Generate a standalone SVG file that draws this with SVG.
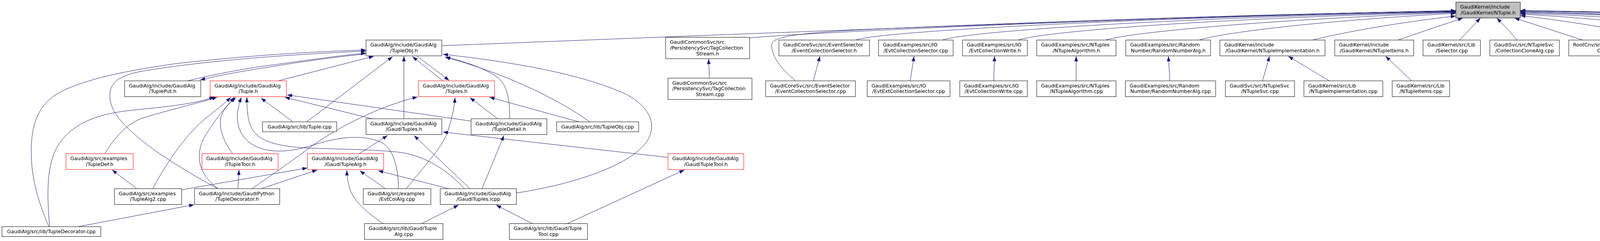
<svg xmlns="http://www.w3.org/2000/svg" width="5953" height="617" viewBox="0 0 5953 617">
<style>
.n rect{fill:#fff;stroke:#000;stroke-width:1}
.r rect{stroke:#ff0000}
.top rect{fill:#bfbfbf}
text{font-family:"DejaVu Sans","Liberation Sans",sans-serif;font-size:12.7px;fill:#000}
.s{text-anchor:start}.m{text-anchor:middle}
#edges path{fill:none;stroke:#191970;stroke-width:1;marker-end:url(#a)}
</style>
<defs>
<marker id="a" markerUnits="userSpaceOnUse" markerWidth="14" markerHeight="10" refX="13" refY="4.65" orient="auto" viewBox="0 0 14 10"><path d="M0,0 L13,4.65 L0,9.3 z" fill="#191970"/></marker>
</defs>
<rect width="5953" height="617" fill="#fff"/>
<g id="edges">
<path d="M125,580 C95,510 80,450 80,390 C80,320 95,260 170,228 C240,198 330,180 450,163 C650,140 830,131 937,128"/>
<path d="M127,580 C120,500 118,420 150,370 C190,310 260,290 340,282 C430,273 500,266 549,248"/>
<path d="M201,580 L497,524"/>
<path d="M350,483 L287,435"/>
<path d="M391,483 C430,410 480,340 530,300 C555,280 575,265 591,249"/>
<path d="M465,486 L787,430"/>
<path d="M558,483 C440,420 300,330 284,265 C272,215 300,195 360,183 C520,155 760,138 937,131"/>
<path d="M558,483 C500,440 500,385 530,340 C555,300 580,272 600,249"/>
<path d="M609,483 L612,435"/>
<path d="M645,483 C700,445 750,410 790,380 C850,335 960,275 1069,248"/>
<path d="M669,483 L812,435"/>
<path d="M268,394 C300,340 335,312 366,302 C430,282 500,266 556,249"/>
<path d="M596,394 C570,360 558,322 567,295 C575,275 590,262 604,249"/>
<path d="M1020,483 C1020,425 1005,378 975,364 C925,342 860,352 800,372 C730,394 670,392 635,362 C605,335 600,295 618,249"/>
<path d="M1189,483 C1140,430 1080,395 1015,389 C940,382 860,382 790,379 C730,376 680,368 655,343 C635,322 632,290 632,249"/>
<path d="M750,312 L668,251"/>
<path d="M785,312 L1005,145"/>
<path d="M953,304 L729,249"/>
<path d="M1206,310 L735,243"/>
<path d="M1034,304 L1034,144"/>
<path d="M1134,207 L1056,145"/>
<path d="M1067,143 L1150,206"/>
<path d="M712,207 L957,144"/>
<path d="M480,207 C560,188 640,173 700,166 C800,152 880,141 937,136"/>
<path d="M937,138 C870,145 790,155 700,170 C620,182 560,193 512,205"/>
<path d="M1305,304 C1305,260 1300,215 1270,195 C1230,170 1180,155 1140,146"/>
<path d="M1510,312 C1430,255 1300,190 1139,146"/>
<path d="M1482,312 L1253,249"/>
<path d="M1322,494 C1450,475 1600,430 1650,370 C1690,320 1660,270 1600,240 C1500,195 1350,163 1134,139"/>
<path d="M1274,304 L1203,250"/>
<path d="M1040,483 C1090,420 1130,380 1145,340 C1158,300 1163,275 1165,250"/>
<path d="M986,483 L921,437"/>
<path d="M919,394 L992,347"/>
<path d="M1203,483 L1060,347"/>
<path d="M1710,403 L1134,338"/>
<path d="M1234,483 L1290,347"/>
<path d="M1149,483 L968,437"/>
<path d="M982,573 C940,545 905,515 895,482 C890,462 888,452 888,436"/>
<path d="M1078,573 L1174,525"/>
<path d="M1364,573 L1270,525"/>
<path d="M1451,573 L1752,435"/>
<path d="M1816,200 L1814,151"/>
<path d="M2082,207 L2099,144"/>
<path d="M2330,207 L2340,144"/>
<path d="M2544,207 L2546,144"/>
<path d="M2755,207 L2755,144"/>
<path d="M2995,207 L2991,144"/>
<path d="M3232,207 L3250,144"/>
<path d="M3403,207 L3298,144"/>
<path d="M3614,207 L3547,144"/>
<path d="M5213,207 L5285,144"/>
<path d="M5419,214.5 L5340,144"/>
<path d="M5435,312 L5435,240.5"/>
<path d="M1131,117 C1700,95 3000,42 3727,27"/>
<path d="M1919,97 C2100,80 3100,38 3727,28"/>
<path d="M2192,102 C2260,80 2900,45 3727,29"/>
<path d="M2037,207 C2000,178 1972,140 1976,112 C1980,90 2080,82 2250,74 C2800,50 3300,35 3727,28"/>
<path d="M2414,102 C2480,80 3000,45 3727,30"/>
<path d="M2608,102 C2680,80 3100,47 3727,31"/>
<path d="M2832,102 C2900,82 3250,50 3727,32"/>
<path d="M3071,102 C3150,80 3400,52 3727,34"/>
<path d="M3362,102 C3450,80 3600,55 3727,41"/>
<path d="M3580,102 L3745,46"/>
<path d="M3737,102 L3790,46"/>
<path d="M3884,102 L3832,46"/>
<path d="M4050,102 L3877,46"/>
<path d="M4257,102 C4150,75 4000,52 3892,40"/>
<path d="M4513,110 C4420,85 4150,50 3892,36"/>
<path d="M4761,110 C4680,85 4300,48 3892,34"/>
<path d="M4965,102 C4880,80 4400,45 3892,32"/>
<path d="M5189,207 C5189,160 5175,110 5140,95 C4900,70 4350,42 3892,30"/>
<path d="M5237,102 C5150,80 4500,44 3892,30"/>
<path d="M5440,214 C5448,160 5440,105 5400,90 C5100,62 4450,38 3892,28"/>
<path d="M5549,110 C5460,85 4600,40 3892,27"/>
<path d="M5772,102 C5680,80 4700,38 3892,27"/>
</g>
<g id="NTuple_h" class="n top"><rect x="3727" y="5.5" width="165" height="40.5"/><text class="s" x="3738" y="22">GaudiKernel/include</text><text class="m" x="3809.5" y="36.5">/GaudiKernel/NTuple.h</text></g>
<g id="TupleObj_h" class="n"><rect x="937" y="102.5" width="194" height="40.5"/><text class="s" x="948" y="119">GaudiAlg/include/GaudiAlg</text><text class="m" x="1034" y="133.5">/TupleObj.h</text></g>
<g id="TagCollectionStream_h" class="n"><rect x="1704" y="95.5" width="215" height="54.7"/><text class="s" x="1715" y="112.2">GaudiCommonSvc/src</text><text class="s" x="1715" y="126.8">/PersistencySvc/TagCollection</text><text class="m" x="1811.5" y="141.5">Stream.h</text></g>
<g id="EventCollectionSelector_h" class="n"><rect x="1994" y="102.5" width="232" height="40.5"/><text class="s" x="2005" y="119">GaudiCoreSvc/src/EventSelector</text><text class="m" x="2110" y="133.5">/EventCollectionSelector.h</text></g>
<g id="EvtCollectionSelector_cpp" class="n"><rect x="2249" y="102.5" width="191" height="40.5"/><text class="s" x="2260" y="119">GaudiExamples/src/IO</text><text class="m" x="2344.5" y="133.5">/EvtCollectionSelector.cpp</text></g>
<g id="EvtCollectionWrite_h" class="n"><rect x="2464" y="102.5" width="166" height="40.5"/><text class="s" x="2475" y="119">GaudiExamples/src/IO</text><text class="m" x="2547" y="133.5">/EvtCollectionWrite.h</text></g>
<g id="NTupleAlgorithm_h" class="n"><rect x="2654" y="102.5" width="203" height="40.5"/><text class="s" x="2665" y="119">GaudiExamples/src/NTuples</text><text class="m" x="2755.5" y="133.5">/NTupleAlgorithm.h</text></g>
<g id="RandomNumberAlg_h" class="n"><rect x="2882" y="102.5" width="217" height="40.5"/><text class="s" x="2893" y="119">GaudiExamples/src/Random</text><text class="m" x="2990.5" y="133.5">Number/RandomNumberAlg.h</text></g>
<g id="NTupleImplementation_h" class="n"><rect x="3123" y="102.5" width="269" height="40.5"/><text class="s" x="3134" y="119">GaudiKernel/include</text><text class="m" x="3257.5" y="133.5">/GaudiKernel/NTupleImplementation.h</text></g>
<g id="NTupleItems_h" class="n"><rect x="3417" y="102.5" width="202" height="40.5"/><text class="s" x="3428" y="119">GaudiKernel/include</text><text class="m" x="3518" y="133.5">/GaudiKernel/NTupleItems.h</text></g>
<g id="Selector_cpp" class="n"><rect x="3643" y="102.5" width="147" height="40.5"/><text class="s" x="3654" y="119">GaudiKernel/src/Lib</text><text class="m" x="3716.5" y="133.5">/Selector.cpp</text></g>
<g id="CollectionCloneAlg_cpp" class="n"><rect x="3814" y="102.5" width="178" height="40.5"/><text class="s" x="3825" y="119">GaudiSvc/src/NTupleSvc</text><text class="m" x="3903" y="133.5">/CollectionCloneAlg.cpp</text></g>
<g id="RootDatabaseCnv_cpp" class="n"><rect x="4016" y="102.5" width="196" height="40.5"/><text class="s" x="4027" y="119">RootCnv/src/RootDatabase</text><text class="m" x="4114" y="133.5">Cnv.cpp</text></g>
<g id="RootDirectoryCnv_cpp" class="n"><rect x="4235" y="102.5" width="192" height="40.5"/><text class="s" x="4246" y="119">RootCnv/src/RootDirectory</text><text class="m" x="4331" y="133.5">Cnv.cpp</text></g>
<g id="RootNTupleCnv_cpp" class="n"><rect x="4451" y="110" width="227" height="25.3"/><text class="m" x="4564.5" y="127">RootCnv/src/RootNTupleCnv.cpp</text></g>
<g id="RootStatCnv_cpp" class="n"><rect x="4703" y="110" width="209" height="25.3"/><text class="m" x="4807.5" y="127">RootCnv/src/RootStatCnv.cpp</text></g>
<g id="RCWNTupleCnv_cpp" class="n"><rect x="4937" y="102.5" width="202" height="40.5"/><text class="s" x="4948" y="119">RootHistCnv/src/RCWNTuple</text><text class="m" x="5038" y="133.5">Cnv.cpp</text></g>
<g id="RDirectoryCnv_h" class="n"><rect x="5213" y="102.5" width="200" height="40.5"/><text class="s" x="5224" y="119">RootHistCnv/src/RDirectory</text><text class="m" x="5313" y="133.5">Cnv.h</text></g>
<g id="RNTupleCnv_cpp" class="n"><rect x="5487" y="110" width="233" height="25.3"/><text class="m" x="5603.5" y="127">RootHistCnv/src/RNTupleCnv.cpp</text></g>
<g id="RRWNTupleCnv_cpp" class="n"><rect x="5745" y="102.5" width="202" height="40.5"/><text class="s" x="5756" y="119">RootHistCnv/src/RRWNTuple</text><text class="m" x="5846" y="133.5">Cnv.cpp</text></g>
<g id="TuplePut_h" class="n"><rect x="319" y="207" width="195" height="40.5"/><text class="s" x="330" y="223.5">GaudiAlg/include/GaudiAlg</text><text class="m" x="416.5" y="238">/TuplePut.h</text></g>
<g id="Tuple_h" class="n r"><rect x="538" y="207" width="195" height="40.5"/><text class="s" x="549" y="223.5">GaudiAlg/include/GaudiAlg</text><text class="m" x="635.5" y="238">/Tuple.h</text></g>
<g id="Tuples_h" class="n r"><rect x="1071" y="207" width="195" height="40.5"/><text class="s" x="1082" y="223.5">GaudiAlg/include/GaudiAlg</text><text class="m" x="1168.5" y="238">/Tuples.h</text></g>
<g id="TagCollectionStream_cpp" class="n"><rect x="1710" y="200" width="215" height="54.7"/><text class="s" x="1721" y="216.7">GaudiCommonSvc/src</text><text class="s" x="1721" y="231.3">/PersistencySvc/TagCollection</text><text class="m" x="1817.5" y="246">Stream.cpp</text></g>
<g id="EventCollectionSelector_cpp" class="n"><rect x="1960" y="207" width="230" height="40.5"/><text class="s" x="1971" y="223.5">GaudiCoreSvc/src/EventSelector</text><text class="m" x="2075" y="238">/EventCollectionSelector.cpp</text></g>
<g id="EvtExtCollectionSelector_cpp" class="n"><rect x="2220" y="207" width="212" height="40.5"/><text class="s" x="2231" y="223.5">GaudiExamples/src/IO</text><text class="m" x="2326" y="238">/EvtExtCollectionSelector.cpp</text></g>
<g id="EvtCollectionWrite_cpp" class="n"><rect x="2457" y="207" width="173" height="40.5"/><text class="s" x="2468" y="223.5">GaudiExamples/src/IO</text><text class="m" x="2543.5" y="238">/EvtCollectionWrite.cpp</text></g>
<g id="NTupleAlgorithm_cpp" class="n"><rect x="2654" y="207" width="203" height="40.5"/><text class="s" x="2665" y="223.5">GaudiExamples/src/NTuples</text><text class="m" x="2755.5" y="238">/NTupleAlgorithm.cpp</text></g>
<g id="RandomNumberAlg_cpp" class="n"><rect x="2881" y="207" width="231" height="40.5"/><text class="s" x="2892" y="223.5">GaudiExamples/src/Random</text><text class="m" x="2996.5" y="238">Number/RandomNumberAlg.cpp</text></g>
<g id="NTupleSvc_cpp" class="n"><rect x="3137" y="207" width="177" height="40.5"/><text class="s" x="3148" y="223.5">GaudiSvc/src/NTupleSvc</text><text class="m" x="3225.5" y="238">/NTupleSvc.cpp</text></g>
<g id="NTupleImplementation_cpp" class="n"><rect x="3338" y="207" width="202" height="40.5"/><text class="s" x="3349" y="223.5">GaudiKernel/src/Lib</text><text class="m" x="3439" y="238">/NTupleImplementation.cpp</text></g>
<g id="NTupleItems_cpp" class="n"><rect x="3564" y="207" width="147" height="40.5"/><text class="s" x="3575" y="223.5">GaudiKernel/src/Lib</text><text class="m" x="3637.5" y="238">/NTupleItems.cpp</text></g>
<g id="RDirectoryCnv_cpp" class="n"><rect x="5089" y="207" width="199" height="40.5"/><text class="s" x="5100" y="223.5">RootHistCnv/src/RDirectory</text><text class="m" x="5188.5" y="238">Cnv.cpp</text></g>
<g id="RFileCnv_h" class="n"><rect x="5337" y="214.5" width="196" height="25.3"/><text class="m" x="5435" y="231.5">RootHistCnv/src/RFileCnv.h</text></g>
<g id="Tuple_cpp" class="n"><rect x="672" y="312" width="190" height="25.3"/><text class="m" x="767" y="329">GaudiAlg/src/lib/Tuple.cpp</text></g>
<g id="GaudiTuples_h" class="n"><rect x="937" y="304" width="194" height="40.5"/><text class="s" x="948" y="320.5">GaudiAlg/include/GaudiAlg</text><text class="m" x="1034" y="335">/GaudiTuples.h</text></g>
<g id="TupleDetail_h" class="n"><rect x="1206" y="304" width="194" height="40.5"/><text class="s" x="1217" y="320.5">GaudiAlg/include/GaudiAlg</text><text class="m" x="1303" y="335">/TupleDetail.h</text></g>
<g id="TupleObj_cpp" class="n"><rect x="1425" y="312" width="210" height="25.3"/><text class="m" x="1530" y="329">GaudiAlg/src/lib/TupleObj.cpp</text></g>
<g id="RFileCnv_cpp" class="n"><rect x="5330" y="312" width="211" height="25.3"/><text class="m" x="5435.5" y="329">RootHistCnv/src/RFileCnv.cpp</text></g>
<g id="TupleDef_h" class="n r"><rect x="169" y="393.5" width="172" height="40.5"/><text class="s" x="180" y="410">GaudiAlg/src/examples</text><text class="m" x="255" y="424.5">/TupleDef.h</text></g>
<g id="ITupleTool_h" class="n r"><rect x="517" y="393.5" width="195" height="40.5"/><text class="s" x="528" y="410">GaudiAlg/include/GaudiAlg</text><text class="m" x="614.5" y="424.5">/ITupleTool.h</text></g>
<g id="GaudiTupleAlg_h" class="n r"><rect x="787" y="393.5" width="195" height="40.5"/><text class="s" x="798" y="410">GaudiAlg/include/GaudiAlg</text><text class="m" x="884.5" y="424.5">/GaudiTupleAlg.h</text></g>
<g id="GaudiTupleTool_h" class="n r"><rect x="1710" y="393.5" width="194" height="40.5"/><text class="s" x="1721" y="410">GaudiAlg/include/GaudiAlg</text><text class="m" x="1807" y="424.5">/GaudiTupleTool.h</text></g>
<g id="TupleAlg2_cpp" class="n"><rect x="293" y="483" width="172" height="40.5"/><text class="s" x="304" y="499.5">GaudiAlg/src/examples</text><text class="m" x="379" y="514">/TupleAlg2.cpp</text></g>
<g id="TupleDecorator_h" class="n"><rect x="498" y="483" width="218" height="40.5"/><text class="s" x="509" y="499.5">GaudiAlg/include/GaudiPython</text><text class="m" x="607" y="514">/TupleDecorator.h</text></g>
<g id="EvtColAlg_cpp" class="n"><rect x="930" y="483" width="173" height="40.5"/><text class="s" x="941" y="499.5">GaudiAlg/src/examples</text><text class="m" x="1016.5" y="514">/EvtColAlg.cpp</text></g>
<g id="GaudiTuples_icpp" class="n"><rect x="1127" y="483" width="195" height="40.5"/><text class="s" x="1138" y="499.5">GaudiAlg/include/GaudiAlg</text><text class="m" x="1224.5" y="514">/GaudiTuples.icpp</text></g>
<g id="TupleDecorator_cpp" class="n"><rect x="5" y="580.3" width="253" height="25.3"/><text class="m" x="131.5" y="597.3">GaudiAlg/src/lib/TupleDecorator.cpp</text></g>
<g id="GaudiTupleAlg_cpp" class="n"><rect x="933" y="572.5" width="201" height="40.5"/><text class="s" x="944" y="589">GaudiAlg/src/lib/GaudiTuple</text><text class="m" x="1033.5" y="603.5">Alg.cpp</text></g>
<g id="GaudiTupleTool_cpp" class="n"><rect x="1304" y="572.5" width="200" height="40.5"/><text class="s" x="1315" y="589">GaudiAlg/src/lib/GaudiTuple</text><text class="m" x="1404" y="603.5">Tool.cpp</text></g>
</svg>
